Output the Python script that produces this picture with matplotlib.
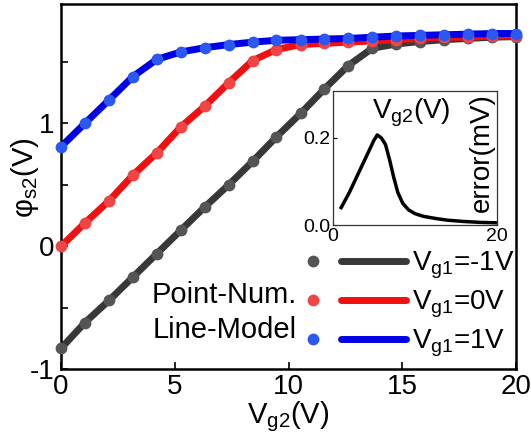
import matplotlib
matplotlib.use("Agg")
import matplotlib.pyplot as plt
from matplotlib.legend_handler import HandlerTuple

plt.rcParams["font.family"] = ["Liberation Sans", "DejaVu Sans"]
plt.rcParams["mathtext.fontset"] = "custom"
plt.rcParams["mathtext.rm"] = "Liberation Sans"
plt.rcParams["mathtext.it"] = "Liberation Sans:italic"
plt.rcParams["mathtext.default"] = "regular"
plt.rcParams["axes.unicode_minus"] = False

# main panel: surface potential vs Vg2
vg2 = [0.0, 1.05, 2.11, 3.16, 4.21, 5.26, 6.32, 7.37, 8.42, 9.47,
       10.53, 11.58, 12.63, 13.68, 14.74, 15.79, 16.84, 17.89, 18.95, 20.0]
phi_m1 = [-0.83, -0.62, -0.44, -0.25, -0.06, 0.13, 0.32, 0.50, 0.69, 0.89,
          1.08, 1.28, 1.47, 1.61, 1.645, 1.665, 1.68, 1.69, 1.70, 1.705]
phi_0 = [0.0, 0.19, 0.37, 0.58, 0.76, 0.97, 1.14, 1.33, 1.51, 1.60,
         1.64, 1.65, 1.66, 1.67, 1.68, 1.69, 1.70, 1.70, 1.71, 1.71]
phi_p1 = [0.81, 1.0, 1.19, 1.38, 1.52, 1.58, 1.615, 1.64, 1.66, 1.675,
          1.68, 1.685, 1.69, 1.70, 1.71, 1.715, 1.72, 1.725, 1.73, 1.73]
labels = ["$V_{g1}$=-1V", "$V_{g1}$=0V", "$V_{g1}$=1V"]
line_colors = ["#383838", "#f01010", "#0000e6"]
dot_colors = ["#555555", "#f04545", "#2a58f0"]

# inset: error vs Vg2
err_x = [1.0, 2.0, 3.0, 4.0, 5.0, 5.4, 5.9, 6.4, 6.9, 7.4, 7.9, 8.5,
         9.2, 10.0, 11.0, 12.5, 14.0, 16.0, 18.0, 20.0]
err_y = [0.04, 0.075, 0.115, 0.155, 0.195, 0.207, 0.20, 0.185, 0.15, 0.11,
         0.075, 0.05, 0.035, 0.026, 0.02, 0.015, 0.011, 0.008, 0.006, 0.005]

fig = plt.figure(figsize=(5.31, 4.45), dpi=100)
ax = fig.add_axes([0.1149, 0.170, 0.8569, 0.821])

handles = []
for ys, lc, dc in zip([phi_m1, phi_0, phi_p1], line_colors, dot_colors):
    ln, = ax.plot(vg2, ys, color=lc, lw=5, solid_capstyle="round", zorder=2)
    pt, = ax.plot(vg2, ys, ls="none", marker="o", ms=8.5, color=dc,
                  markeredgewidth=0, zorder=3, clip_on=False)
    handles.append((pt, ln))

ax.set_xlim(0, 20)
ax.set_ylim(-1, 1.97)
ax.set_xticks([0, 5, 10, 15, 20])
ax.set_yticks([-1, 0, 1])
ax.set_yticks([-0.5, 0.5, 1.5], minor=True)
ax.tick_params(direction="in", labelsize=20, width=1.2, length=5)
ax.tick_params(axis="y", which="minor", direction="in", width=1.2, length=5)
ax.tick_params(axis="y", pad=5)
ax.tick_params(axis="x", pad=3)
for s in ax.spines.values():
    s.set_linewidth(1.8)
ax.set_xlabel("$V_{g2}$(V)", fontsize=21, labelpad=0)
ax.set_ylabel("φ$_{s2}$(V)", fontsize=21)
ax.yaxis.set_label_coords(-0.045, 0.525)

leg = ax.legend(handles, labels, handler_map={tuple: HandlerTuple(ndivide=None, pad=-0.13)},
                loc="upper left", bbox_to_anchor=(280 / 531, 1 - 250 / 445),
                bbox_transform=fig.transFigure, frameon=False, fontsize=20,
                handlelength=4.55, handletextpad=0.22, labelspacing=0.27,
                borderpad=0, borderaxespad=0)

ax.text(0.519, 0.203, "Point-Num.", transform=ax.transAxes, fontsize=21,
        ha="right", va="center")
ax.text(0.519, 0.108, "Line-Model", transform=ax.transAxes, fontsize=21,
        ha="right", va="center")

# inset
axi = fig.add_axes([333 / 531, 1 - 225 / 445, 164 / 531, 134 / 445])
axi.plot(err_x, err_y, color="black", lw=2.5)
axi.set_xlim(0, 20)
axi.set_ylim(0, 0.308)
axi.set_xticks([0, 20])
axi.set_yticks([0.0, 0.2])
axi.set_yticklabels(["0.0", "0.2"])
axi.tick_params(direction="in", labelsize=14, length=3, pad=2)
for s in axi.spines.values():
    s.set_linewidth(0.9)
    s.set_color("#333333")
axi.text(0.48, 0.84, "$V_{g2}$(V)", transform=axi.transAxes, fontsize=20,
         ha="center", va="center")
axi.text(0.907, 0.54, "error(mV)", transform=axi.transAxes, fontsize=20,
         ha="center", va="center", rotation=90)

fig.savefig("out.png", dpi=100)
